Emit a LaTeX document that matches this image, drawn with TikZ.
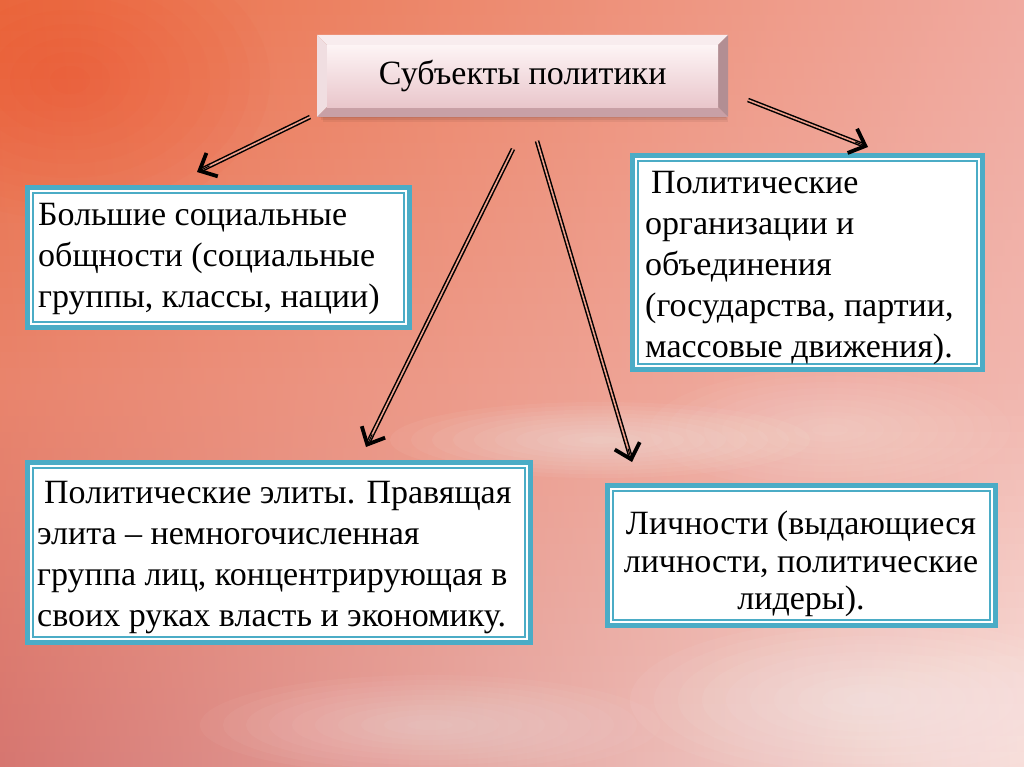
\documentclass[tikz,border=0pt]{standalone}
\usepackage{fontspec}
\setmainfont{Liberation Serif}
\usetikzlibrary{arrows.meta,calc}
\definecolor{tealb}{RGB}{75,172,198}
\definecolor{cTL}{RGB}{234,110,68}
\definecolor{cTM}{RGB}{243,142,88}
\definecolor{cTR}{RGB}{240,170,160}
\definecolor{cML}{RGB}{233,132,108}
\definecolor{cMM}{RGB}{238,158,138}
\definecolor{cMR}{RGB}{241,182,174}
\definecolor{cBL}{RGB}{214,118,112}
\definecolor{cBM}{RGB}{241,196,190}
\definecolor{cBR}{RGB}{247,222,218}
\definecolor{gapc}{RGB}{240,160,140}
\definecolor{faceT}{RGB}{253,244,245}
\definecolor{faceB}{RGB}{233,198,203}
\definecolor{bevT}{RGB}{248,236,238}
\definecolor{bevL}{RGB}{240,222,225}
\definecolor{bevR}{RGB}{178,142,147}
\definecolor{bevB}{RGB}{200,160,166}
\newcommand{\mysoftblob}[6]{% color, cx, cy, rx, ry, opacity
  \foreach \k in {1,...,10}{
    \fill[#1, opacity=#6] (#2,#3) ellipse [x radius={#4*\k/10}, y radius={#5*\k/10}];
  }}
\begin{document}
\begin{tikzpicture}[x=1pt,y=-1pt,
  box/.style={draw=tealb, line width=5pt, fill=white},
  innerbox/.style={draw=tealb, line width=1.1pt},
  txt/.style={inner sep=0pt, font=\fontsize{34}{41}\selectfont, align=left},
  shaft/.style={draw=black, line width=1.5pt, double=gapc, double distance=1.6pt},
  tip/.style={-{Straight Barb[length=14pt,width=26pt,line width=3.8pt]}, line width=1pt}
]
\useasboundingbox (0,0) rectangle (1024,767);
% ---------- background ----------
\foreach \i in {0,...,47}{
  \pgfmathsetmacro{\t}{\i/47}
  \ifdim\t pt<0.5pt
    \pgfmathsetmacro{\pc}{200*\t}
    \colorlet{sL}{cML!\pc!cTL}\colorlet{sM}{cMM!\pc!cTM}\colorlet{sR}{cMR!\pc!cTR}
  \else
    \pgfmathsetmacro{\pc}{200*(\t-0.5)}
    \colorlet{sL}{cBL!\pc!cML}\colorlet{sM}{cBM!\pc!cMM}\colorlet{sR}{cBR!\pc!cMR}
  \fi
  \fill[left color=sL, middle color=sM, right color=sR] (0,{\i*16}) rectangle (1024,{\i*16+16.6});
}
\mysoftblob{white}{600}{440}{210}{38}{0.05}
\mysoftblob{white}{870}{700}{240}{80}{0.05}
\mysoftblob{white}{430}{725}{230}{50}{0.04}
\mysoftblob{white}{830}{430}{180}{60}{0.035}
\mysoftblob{red!70!orange}{70}{80}{200}{140}{0.025}
% ---------- title (bevel box) ----------
\foreach \d in {0,2,4}{
  \fill[black, opacity=.06] ({319+\d},{37+\d}) rectangle ({726+\d/2},{118+\d});
}
\coordinate (o1) at (317,35); \coordinate (o2) at (728,35);
\coordinate (o3) at (728,117); \coordinate (o4) at (317,117);
\coordinate (i1) at (327,45); \coordinate (i2) at (718,45);
\coordinate (i3) at (718,107); \coordinate (i4) at (327,107);
\fill[bevT] (o1) -- (o2) -- (i2) -- (i1) -- cycle;
\fill[bevL] (o1) -- (i1) -- (i4) -- (o4) -- cycle;
\fill[bevR] (o2) -- (o3) -- (i3) -- (i2) -- cycle;
\fill[bevB] (o4) -- (i4) -- (i3) -- (o3) -- cycle;
\node[inner sep=0pt, minimum width=391pt, minimum height=62pt, top color=faceT, bottom color=faceB,
      anchor=north west, font=\fontsize{34}{40}\selectfont] (title) at (i1) {Субъекты политики};
% ---------- boxes ----------
\draw[box] (27.5,187.5) rectangle (409.5,327.5);
\draw[innerbox] (33,193) rectangle (404,322);
\node[txt, anchor=north west] (b1) at (38,203) {Большие социальные\\общности (социальные\\группы, классы, нации)};

\draw[box] (632.5,155.5) rectangle (982.5,369.5);
\draw[innerbox] (638,161) rectangle (977,364);
\node[txt, anchor=north west] (b2) at (645,171) {\hspace*{6pt}Политические\\организации и\\объединения\\(государства, партии,\\массовые движения).};

\draw[box] (27.5,462.5) rectangle (530.5,642.5);
\draw[innerbox] (33,468) rectangle (525,637);
\node[txt, anchor=north west] (b3) at (37,481) {\hspace*{7pt}Политические элиты. Правящая\\элита -- немногочисленная\\группа лиц, концентрирующая в\\своих руках власть и экономику.};

\draw[box] (607.5,485.5) rectangle (995.5,625.5);
\draw[innerbox] (613,491) rectangle (990,620);
\node[txt, align=center, anchor=north, font=\fontsize{34}{37.5}\selectfont] (b4) at (801,511) {Личности (выдающиеся\\личности, политические\\лидеры).};
% ---------- arrows ----------
\coordinate (s1) at (310,117); \coordinate (e1) at (197,172);
\coordinate (s2) at (748,100); \coordinate (e2) at (868,147);
\coordinate (s3) at (513,149); \coordinate (e3) at (366,447);
\coordinate (s4) at (537,141); \coordinate (e4) at (632,462);
\foreach \s/\e in {s1/e1,s2/e2,s3/e3,s4/e4}{
  \draw[shaft, shorten >=4pt] (\s) -- (\e);
  \draw[tip] ($(\e)!14pt!(\s)$) -- (\e);
}
\end{tikzpicture}
\end{document}
